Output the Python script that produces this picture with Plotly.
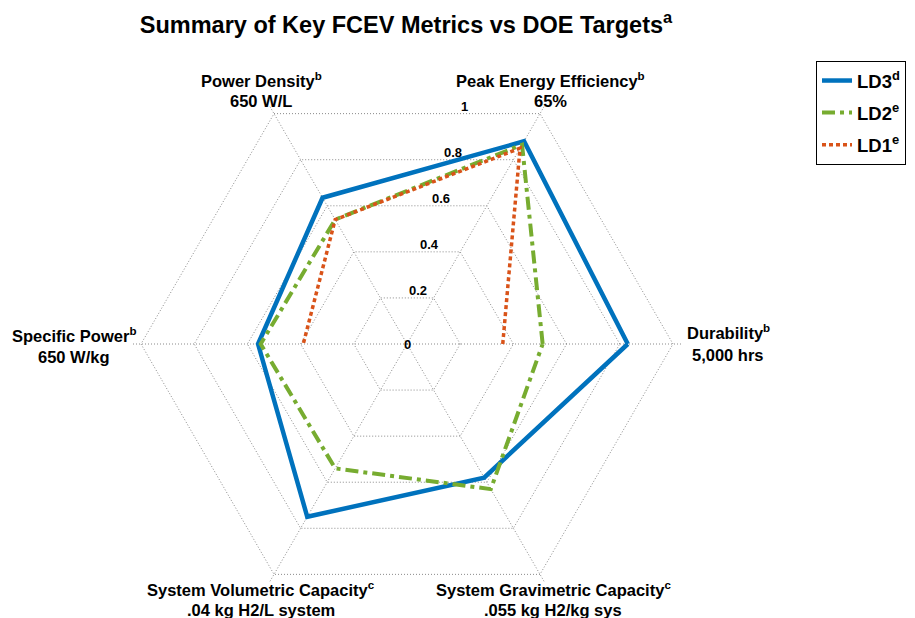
import math
import plotly.graph_objects as go

# ---------------- data ----------------
axes_names = ["Durability", "Peak Energy Efficiency", "Power Density",
              "Specific Power", "System Volumetric Capacity", "System Gravimetric Capacity"]
axes_titles = ["Durability<sup>b</sup>", "Peak Energy Efficiency<sup>b</sup>",
               "Power Density<sup>b</sup>", "Specific Power<sup>b</sup>",
               "System Volumetric Capacity<sup>c</sup>", "System Gravimetric Capacity<sup>c</sup>"]
axes_targets = ["5,000 hrs", "65%", "650 W/L", "650 W/kg",
                ".04 kg H2/L system", ".055 kg H2/kg sys"]
ld3 = [0.83, 0.88, 0.635, 0.56, 0.75, 0.58]
ld2 = [0.51, 0.865, 0.54, 0.55, 0.54, 0.63]
ld1 = [0.36, 0.85, 0.54, 0.39, None, None]
radial_ticks = [0, 0.2, 0.4, 0.6, 0.8, 1]
radial_ticktext = ["0", "0.2", "0.4", "0.6", "0.8", "1"]
series_names = ["LD3<sup>d</sup>", "LD2<sup>e</sup>", "LD1<sup>e</sup>"]
title_text = "Summary of Key FCEV Metrics vs DOE Targets<sup>a</sup>"

# ---------------- layout geometry ----------------
OFF = 8                               # page body margin
W, H = 915 - OFF, 618 - OFF
CX, CY, RAD1 = 407 - OFF, 344 - OFF, 266  # pixel centre / radius of r = 1
RMAX = 1.03
RADD = RAD1 * RMAX
dom_x = [(CX - RADD) / W, (CX + RADD) / W]
dom_y = [(H - CY - RADD) / H, (H - CY + RADD) / H]

FONT = "Liberation Sans, Arial, sans-serif"
BLUE, GREEN, ORANGE = "#0072BD", "#77AC30", "#D95319"
GRID = "#8a8a8a"

fig = go.Figure()
closed_theta = axes_names + axes_names[:1]
fig.add_trace(go.Scatterpolar(r=ld3 + ld3[:1], theta=closed_theta, mode="lines",
                              name=series_names[0], legendgroup="g3",
                              line=dict(color=BLUE, width=4.5)))
fig.add_trace(go.Scatterpolar(r=ld2 + ld2[:1], theta=closed_theta, mode="lines",
                              name=series_names[1], legendgroup="g2",
                              line=dict(color=GREEN, width=4, dash="13px,5px,4px,5px")))
fig.add_trace(go.Scatterpolar(r=ld1, theta=axes_names, mode="lines",
                              name=series_names[2], legendgroup="g1", connectgaps=False,
                              line=dict(color=ORANGE, width=3.5, dash="4px,3px")))

fig.update_layout(
    width=W, height=H,
    margin=dict(l=0, r=0, t=0, b=0, autoexpand=False),
    paper_bgcolor="white",
    font=dict(family=FONT, color="black"),
    title=dict(text=title_text, x=(406 - OFF) / W, xanchor="center",
               y=1 - (25 - OFF) / H, yanchor="middle",
               font=dict(size=23.5, family=FONT, color="black", weight="bold")),
    polar=dict(
        domain=dict(x=dom_x, y=dom_y),
        gridshape="linear",
        bgcolor="rgba(0,0,0,0)",
        radialaxis=dict(range=[0, RMAX], tickvals=radial_ticks, showticklabels=False,
                        ticks="", showline=False, gridcolor=GRID, gridwidth=1,
                        griddash="1px,2px"),
        angularaxis=dict(type="category", categoryorder="array", categoryarray=axes_names,
                         rotation=0, direction="counterclockwise",
                         showticklabels=False, ticks="", showline=False,
                         gridcolor=GRID, gridwidth=1, griddash="1px,2px"),
    ),
    legend=dict(x=(816 - OFF) / W, y=1 - (61 - OFF) / H, xanchor="left", yanchor="top",
                bordercolor="black", borderwidth=1, bgcolor="white",
                font=dict(size=18.5, family=FONT, color="black", weight="bold"),
                tracegroupgap=5),
    showlegend=True,
)

# ---------------- text labels (placed relative to the polar geometry) ----------------
def to_paper(r, ang):
    a = math.radians(ang)
    return (CX + r * RAD1 * math.cos(a)) / W, (H - CY + r * RAD1 * math.sin(a)) / H

anns = []
# (angle, x offset of text centre, y offset line1, y offset line2) in px, +y = down
label_specs = [
    (0, 55, -9, 11),
    (60, 10, -31, -13),
    (120, -13, -31, -13),
    (180, -67, -6, 13),
    (240, -13, 18, 36),
    (300, 13, 18, 36),
]
for t1, t2, (ang, dx, dy1, dy2) in zip(axes_titles, axes_targets, label_specs):
    px, py = to_paper(1, ang)
    for txt, dy, sup in ((t1, dy1, True), (t2, dy2, False)):
        anns.append(dict(x=px, y=py, xref="paper", yref="paper", text=txt, showarrow=False,
                         xanchor="center", yanchor="middle", xshift=dx,
                         yshift=-dy + (3 if sup else 0), align="center",
                         font=dict(size=16.5, family=FONT, color="black", weight="bold")))

edge = math.cos(math.radians(30)) / math.cos(math.radians(14))
for v, t in zip(radial_ticks, radial_ticktext):
    px, py = to_paper(v * edge, 76)
    anns.append(dict(x=px, y=py, xref="paper", yref="paper", text=t, showarrow=False,
                     xanchor="center", yanchor="middle", yshift=7 if v > 0 else 0,
                     font=dict(size=13, family=FONT, color="black", weight="bold")))
fig.update_layout(annotations=anns)

fig.write_html("out.html")
